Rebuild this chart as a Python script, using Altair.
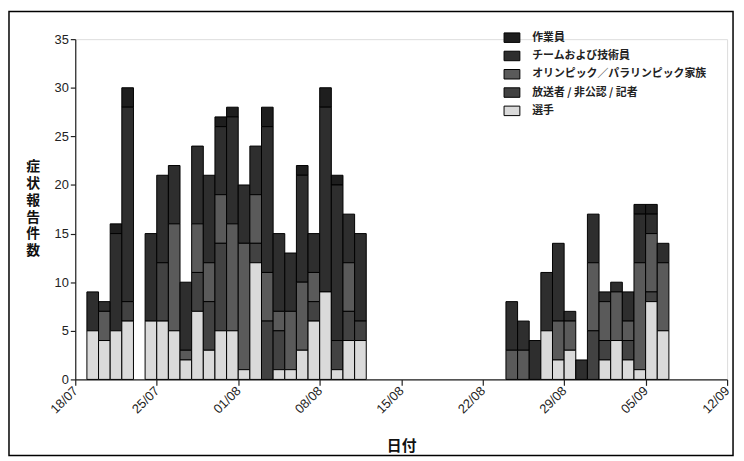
import altair as alt
import pandas as pd

# ---- data ----
start_date = "2021-07-18"
dates = [
    "2021-07-19", "2021-07-20", "2021-07-21", "2021-07-22",
    "2021-07-24", "2021-07-25", "2021-07-26", "2021-07-27", "2021-07-28",
    "2021-07-29", "2021-07-30", "2021-07-31", "2021-08-01", "2021-08-02",
    "2021-08-03", "2021-08-04", "2021-08-05", "2021-08-06", "2021-08-07",
    "2021-08-08", "2021-08-09", "2021-08-10", "2021-08-11",
    "2021-08-24", "2021-08-25", "2021-08-26", "2021-08-27", "2021-08-28",
    "2021-08-29", "2021-08-30", "2021-08-31", "2021-09-01", "2021-09-02",
    "2021-09-03", "2021-09-04", "2021-09-05", "2021-09-06",
]
senshu  = [5, 4, 5, 6,  6, 6, 5, 2, 7, 3, 5, 5, 1, 12, 0, 1, 1, 3, 6, 9, 1, 4, 4,
           0, 0, 0, 5, 2, 3, 0, 0, 2, 4, 2, 1, 8, 5]
hoso    = [0, 0, 0, 2,  0, 6, 0, 0, 4, 5, 9, 0, 0, 2, 6, 4, 0, 0, 2, 0, 3, 3, 2,
           0, 0, 0, 0, 0, 0, 0, 5, 2, 0, 2, 0, 1, 0]
olympic = [0, 3, 0, 0,  0, 0, 11, 1, 5, 4, 5, 11, 13, 5, 5, 2, 6, 7, 3, 0, 0, 5, 0,
           3, 3, 0, 0, 4, 3, 0, 7, 4, 5, 2, 11, 6, 7]
team    = [4, 1, 10, 20, 9, 9, 6, 7, 8, 9, 7, 11, 6, 5, 15, 8, 6, 11, 4, 19, 16, 5, 9,
           5, 3, 4, 6, 8, 1, 2, 5, 1, 1, 3, 5, 2, 2]
sagyo   = [0, 0, 1, 2,  0, 0, 0, 0, 0, 0, 1, 1, 0, 0, 2, 0, 0, 1, 0, 2, 1, 0, 0,
           0, 0, 0, 0, 0, 0, 0, 0, 0, 0, 0, 1, 1, 0]

categories = ["作業員", "チームおよび技術員", "オリンピック／パラリンピック家族",
              "放送者 / 非公認 / 記者", "選手"]
colors = ["#1e1e1e", "#2e2e2e", "#5a5a5a", "#424242", "#dadada"]
tick_labels = ["18/07", "25/07", "01/08", "08/08", "15/08",
               "22/08", "29/08", "05/09", "12/09"]
y_title = ["症", "状", "報", "告", "件", "数"]

series = [sagyo, team, olympic, hoso, senshu]

rows = []
t0 = pd.Timestamp(start_date)
for i, d in enumerate(dates):
    day = (pd.Timestamp(d) - t0).days
    for k, (cat, vals) in enumerate(zip(categories, series)):
        v = vals[i]
        if v > 0:
            rows.append({"day": day, "cat": cat, "count": v,
                         "order": len(categories) - k})
df = pd.DataFrame(rows)

W, H = 659, 344
label_js = "[" + ",".join("'" + t + "'" for t in tick_labels) + "][round(datum.value/7)]"

bars = alt.Chart(df).transform_calculate(
    day_end="datum.day + 1"
).transform_stack(
    stack="count", groupby=["day"], as_=["y0", "y1"],
    sort=[alt.SortField("order", order="ascending")]
).mark_rect(stroke="black", strokeWidth=1).encode(
    x=alt.X("day:Q",
            scale=alt.Scale(domain=[0, 56], nice=False, zero=False),
            axis=alt.Axis(values=list(range(0, 57, 7)), labelExpr=label_js,
                          labelAngle=-45, labelAlign="right", labelBaseline="middle",
                          labelFontSize=13, labelFont="Liberation Sans",
                          labelColor="#222", tickSize=6, tickColor="#222",
                          domainColor="#222", domainWidth=1.2, tickWidth=1.2,
                          grid=False, labelPadding=3,
                          title="日付", titleFont="Noto Sans CJK JP",
                          titleFontSize=15, titleFontWeight="bold",
                          titleBaseline="top", titleY=60, titleColor="#111")),
    x2="day_end:Q",
    y=alt.Y("y0:Q",
            scale=alt.Scale(domain=[0, 35], nice=False),
            axis=alt.Axis(values=list(range(0, 36, 5)), labelFontSize=13,
                          labelFont="Liberation Sans", labelColor="#222",
                          tickSize=5, tickColor="#222", domainColor="#222",
                          domainWidth=1.2, tickWidth=1.2, grid=False,
                          labelPadding=2,
                          title=y_title,
                          titleAngle=0, titleAlign="center", titleBaseline="top",
                          titleX=-43, titleY=122,
                          titleFont="Liberation Sans, Noto Sans CJK JP",
                          titleFontSize=14, titleFontWeight="bold",
                          titleLineHeight=17, titleColor="#111")),
    y2="y1:Q",
    color=alt.Color("cat:N",
                    scale=alt.Scale(domain=categories, range=colors),
                    legend=alt.Legend(orient="none", legendX=433, legendY=-10,
                                      title=None, padding=0,
                                      symbolType="M-1,-0.6H1V0.6H-1Z",
                                      symbolSize=256, symbolStrokeColor="black",
                                      symbolStrokeWidth=1, symbolOpacity=1,
                                      labelFont="Noto Sans CJK JP",
                                      labelFontSize=11, labelFontWeight="bold",
                                      labelColor="#222", labelOffset=12,
                                      labelLimit=300, rowPadding=2.5)),
)

frame = alt.Chart(pd.DataFrame({"a": [0]})).mark_rect(
    fill=None, stroke="black", strokeWidth=1.5
).encode(
    x=alt.value(-67), x2=alt.value(W + 6),
    y=alt.value(-28), y2=alt.value(H + 77),
)

chart = alt.layer(bars, frame).properties(
    width=W, height=H,
    autosize="none",
    padding={"left": 68, "top": 29, "right": 9, "bottom": 80},
).configure_view(stroke=None).configure(background="white")

chart.save("out.html", embed_options={"renderer": "svg", "actions": False})
